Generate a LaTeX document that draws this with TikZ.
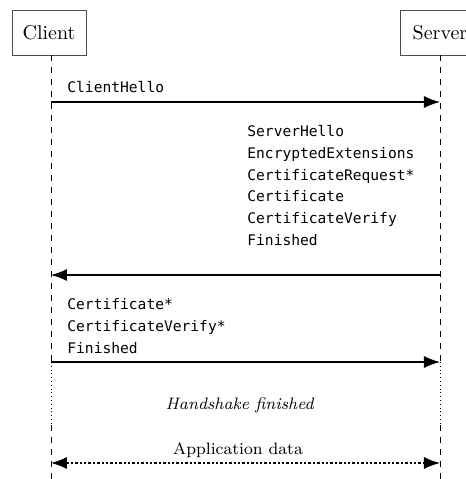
\documentclass[tikz,border=0pt]{standalone}
\usepackage{fontspec}
\setmonofont{DejaVu Sans Mono}
\usetikzlibrary{arrows.meta}
\usetikzlibrary{positioning}
\tikzset{
  party/.style={
    draw=black!70,
    minimum width=37pt,
    minimum height=22.5pt,
    inner sep=2pt,
  },
  lifeline/.style={
    draw=black,
    line width=0.4pt,
    dash pattern=on 3pt off 3pt,
  },
  quiet line/.style={
    draw=black,
    line width=0.4pt,
    dash pattern=on 0.5pt off 1.4pt,
  },
  msg/.style={
    line width=0.6pt,
    -{Latex[length=8pt,width=6pt]},
  },
  data msg/.style={
    msg,
    {Latex[length=8pt,width=6pt]}-{Latex[length=8pt,width=6pt]},
    dash pattern=on 1.2pt off 1pt,
  },
  msgtext/.style={
    font=\ttfamily\fontsize{7.3}{10.9}\selectfont,
    align=left,
    inner sep=0pt,
  },
  note/.style={
    font=\fontsize{8.3}{10}\selectfont,
    inner sep=0pt,
  },
}

\begin{document}
\begin{tikzpicture}[x=0.5pt,y=-0.5pt]
    \useasboundingbox (0,0) rectangle (466,479);
    \node[party] (client) at (49,32.5) {Client};
    \node[party, minimum width=40pt] (server) at (440,32.5) {Server};
    % lifelines
    \coordinate (cl) at (51,0);
    \coordinate (sl) at (440,0);
    \coordinate (quiet top) at (0,362);
    \coordinate (quiet end) at (0,425);
    \coordinate (bottom) at (0,485);
    \draw[lifeline] (client.south -| cl) -- (cl |- quiet top);
    \draw[quiet line] (cl |- quiet top) -- (cl |- quiet end);
    \draw[lifeline] (cl |- quiet end) -- (cl |- bottom);
    \draw[lifeline] (server.south -| sl) -- (sl |- quiet top);
    \draw[quiet line] (sl |- quiet top) -- (sl |- quiet end);
    \draw[lifeline] (sl |- quiet end) -- (sl |- bottom);
    % messages
    \coordinate (hello) at (0,102);
    \coordinate (reply) at (0,275);
    \coordinate (finish) at (0,362);
    \coordinate (data) at (0,463);
    \node[msgtext, anchor=base west] (hello text) at (67,92) {ClientHello};
    \draw[msg] (cl |- hello) -- (sl |- hello);
    \node[msgtext, anchor=north west] (reply text) at (247,125) {ServerHello\\
      EncryptedExtensions\\
      CertificateRequest*\\
      Certificate\\
      CertificateVerify\\
      Finished};
    \draw[msg] (sl |- reply) -- (cl |- reply);
    \node[msgtext, anchor=north west] (finish text) at (67,298) {Certificate*\\
      CertificateVerify*\\
      Finished};
    \draw[msg] (cl |- finish) -- (sl |- finish);
    \node[note] (done) at (240,405) {\textit{Handshake finished}};
    \node[note] (data text) at (238,450) {Application data};
    \draw[data msg] (cl |- data) -- (sl |- data);
  \end{tikzpicture}
\end{document}
